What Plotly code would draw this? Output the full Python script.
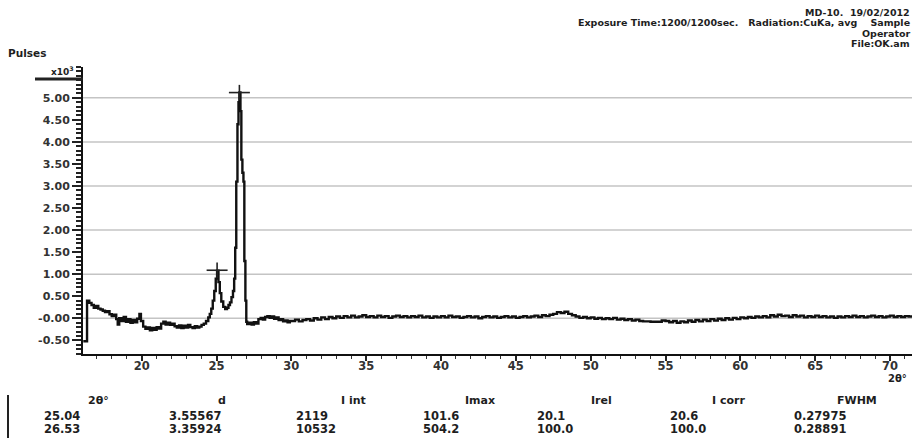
import plotly.graph_objects as go

# ---------------- data (pulses in units of 10^3) ----------------
two_theta = [
    16.10, 16.30, 16.35, 16.50, 16.65, 16.80, 16.95, 17.10, 17.25, 17.40,
    17.55, 17.70, 17.85, 18.00, 18.15, 18.30, 18.40, 18.50, 18.65, 18.80,
    18.95, 19.10, 19.25, 19.40, 19.55, 19.70, 19.85, 19.95, 20.10, 20.25,
    20.40, 20.55, 20.70, 20.85, 21.00, 21.15, 21.30, 21.45, 21.60, 21.75,
    21.90, 22.05, 22.20, 22.35, 22.50, 22.65, 22.80, 22.95, 23.10, 23.25,
    23.40, 23.55, 23.70, 23.85, 24.00, 24.15, 24.30, 24.45, 24.55, 24.65,
    24.75, 24.85, 24.95, 25.04, 25.13, 25.22, 25.32, 25.45, 25.58, 25.70,
    25.80, 25.90, 26.00, 26.10, 26.18, 26.25, 26.32, 26.40, 26.47, 26.53,
    26.60, 26.66, 26.73, 26.80, 26.86, 26.93, 26.99, 27.05, 27.20, 27.35,
    27.50, 27.65, 27.80, 27.95, 28.10, 28.25, 28.40, 28.55, 28.70, 28.85,
    29.00, 29.15, 29.30, 29.45, 29.60, 29.75, 29.90,
    30.00, 30.25, 30.50, 30.75, 31.00, 31.25, 31.50, 31.75, 32.00, 32.25,
    32.50, 32.75, 33.00, 33.25, 33.50, 33.75, 34.00, 34.25, 34.50, 34.75,
    35.00, 35.25, 35.50, 35.75, 36.00, 36.25, 36.50, 36.75, 37.00, 37.25,
    37.50, 37.75, 38.00, 38.25, 38.50, 38.75, 39.00, 39.25, 39.50, 39.75,
    40.00, 40.25, 40.50, 40.75, 41.00, 41.25, 41.50, 41.75, 42.00, 42.25,
    42.50, 42.75, 43.00, 43.25, 43.50, 43.75, 44.00, 44.25, 44.50, 44.75,
    45.00, 45.25, 45.50, 45.75, 46.00, 46.25, 46.50, 46.75, 47.00, 47.25,
    47.50, 47.75, 48.00, 48.25, 48.50, 48.75, 49.00, 49.25, 49.50, 49.75,
    50.00, 50.25, 50.50, 50.75, 51.00, 51.25, 51.50, 51.75, 52.00, 52.25,
    52.50, 52.75, 53.00, 53.25, 53.50, 53.75, 54.00, 54.25, 54.50, 54.75,
    55.00, 55.25, 55.50, 55.75, 56.00, 56.25, 56.50, 56.75, 57.00, 57.25,
    57.50, 57.75, 58.00, 58.25, 58.50, 58.75, 59.00, 59.25, 59.50, 59.75,
    60.00, 60.25, 60.50, 60.75, 61.00, 61.25, 61.50, 61.75, 62.00, 62.25,
    62.50, 62.75, 63.00, 63.25, 63.50, 63.75, 64.00, 64.25, 64.50, 64.75,
    65.00, 65.25, 65.50, 65.75, 66.00, 66.25, 66.50, 66.75, 67.00, 67.25,
    67.50, 67.75, 68.00, 68.25, 68.50, 68.75, 69.00, 69.25, 69.50, 69.75,
    70.00, 70.25, 70.50, 70.75, 71.00, 71.25, 71.50,
]
pulses_k = [
    -0.52, -0.52, 0.40, 0.35, 0.30, 0.24, 0.28, 0.22, 0.20, 0.17,
    0.14, 0.16, 0.09, 0.05, 0.08, -0.02, -0.14, 0.00, -0.06, 0.03,
    -0.08, -0.02, -0.10, -0.04, -0.09, -0.01, 0.10, -0.06, -0.19, -0.24,
    -0.21, -0.27, -0.22, -0.26, -0.20, -0.23, -0.12, -0.08, -0.14, -0.10,
    -0.15, -0.12, -0.18, -0.21, -0.16, -0.22, -0.17, -0.21, -0.15, -0.20,
    -0.22, -0.18, -0.21, -0.19, -0.15, -0.12, -0.06, 0.02, 0.10, 0.22,
    0.40, 0.62, 0.90, 1.08, 0.82, 0.57, 0.38, 0.26, 0.21, 0.24,
    0.30, 0.36, 0.48, 0.62, 0.90, 1.60, 3.10, 4.40, 4.90, 5.12,
    4.70, 3.60, 3.30, 3.10, 1.30, 0.40, -0.08, -0.13, -0.10, -0.14,
    -0.09, -0.12, -0.02, 0.01, -0.03, 0.03, 0.05, 0.01, 0.04, -0.01,
    0.02, -0.04, -0.02, -0.07, -0.05, -0.09, -0.06,
    -0.06, -0.03, -0.07, -0.04, -0.02, -0.05, 0.00, -0.03, 0.02, -0.02,
    0.03, 0.00, 0.04, 0.01, 0.05, 0.02, 0.06, 0.02, 0.04, 0.07,
    0.03, 0.05, 0.02, 0.06, 0.03, 0.05, 0.01, 0.04, 0.06, 0.03,
    0.05, 0.02, 0.05, 0.03, 0.06, 0.02, 0.04, 0.01, 0.04, 0.02,
    0.05, 0.02, 0.06, 0.03, 0.04, 0.01, 0.03, 0.05, 0.02, 0.04,
    0.00, 0.03, 0.05, 0.02, 0.04, 0.01, 0.03, 0.05, 0.02, 0.04,
    0.01, 0.03, 0.05, 0.02, 0.04, 0.06, 0.03, 0.07, 0.05, 0.08,
    0.10, 0.14, 0.12, 0.15, 0.10, 0.07, 0.04, 0.01, 0.03, 0.00,
    0.02, -0.01, 0.01, -0.02, 0.00, -0.02, 0.01, -0.03, -0.01, -0.04,
    -0.02, -0.05, -0.03, -0.06, -0.07, -0.07, -0.08, -0.08, -0.08, -0.05,
    -0.06, -0.09, -0.06, -0.10, -0.07, -0.09, -0.05, -0.08, -0.04, -0.07,
    -0.03, -0.06, -0.02, -0.05, -0.01, -0.04, 0.00, -0.03, 0.01, -0.02,
    0.02, 0.00, 0.03, 0.01, 0.04, 0.02, 0.05, 0.02, 0.07, 0.04,
    0.08, 0.05, 0.06, 0.03, 0.07, 0.04, 0.06, 0.02, 0.05, 0.03,
    0.06, 0.03, 0.05, 0.02, 0.04, 0.01, 0.04, 0.02, 0.05, 0.03,
    0.06, 0.03, 0.05, 0.02, 0.04, 0.06, 0.03, 0.05, 0.02, 0.04,
    0.06, 0.03, 0.05, 0.03, 0.05, 0.04, 0.05,
]

peak_two_theta = [25.04, 26.53]
peak_top_k = [1.09, 5.12]

y_tick_values = [-0.5, 0.0, 0.5, 1.0, 1.5, 2.0, 2.5, 3.0, 3.5, 4.0, 4.5, 5.0]
y_tick_labels = ["-0.50", "-0.00", "0.50", "1.00", "1.50", "2.00", "2.50",
                 "3.00", "3.50", "4.00", "4.50", "5.00"]
x_tick_values = [20, 25, 30, 35, 40, 45, 50, 55, 60, 65, 70]
x_tick_labels = ["20", "25", "30", "35", "40", "45", "50", "55", "60", "65", "70"]
grid_values = [0, 1, 2, 3, 4, 5]

header_lines = ["MD-10.  19/02/2012",
                "Exposure Time:1200/1200sec.   Radiation:CuKa, avg    Sample",
                "Operator",
                "File:OK.am"]
table_headers = ["2θ°", "d", "I int", "Imax", "Irel", "I corr", "FWHM"]
table_row1 = ["25.04", "3.55567", "2119", "101.6", "20.1", "20.6", "0.27975"]
table_row2 = ["26.53", "3.35924", "10532", "504.2", "100.0", "100.0", "0.28891"]

# ---------------- layout helpers (pixel -> paper) ----------------
W, H = 912, 438
L, R, T, B = 83, 0, 67, 84
PW, PH = W - L - R, H - T - B


def px(x):
    return (x - L) / PW


def py(y):
    return (H - B - y) / PH


FONT = "DejaVu Sans"
TXT = "#1e1e1e"

fig = go.Figure()

fig.add_trace(go.Scatter(
    x=two_theta, y=pulses_k, mode="lines",
    line=dict(color="#111111", width=2.4, shape="hv"),
    hoverinfo="skip", showlegend=False,
))
fig.add_trace(go.Scatter(
    x=peak_two_theta, y=peak_top_k, mode="markers",
    marker=dict(symbol="line-ew", size=15, line=dict(color="#222222", width=1.6)),
    hoverinfo="skip", showlegend=False,
))
fig.add_trace(go.Scatter(
    x=peak_two_theta, y=peak_top_k, mode="markers",
    marker=dict(symbol="line-ns", size=11, line=dict(color="#222222", width=1.6)),
    hoverinfo="skip", showlegend=False,
))

shapes = []
for g in grid_values:
    shapes.append(dict(type="line", xref="paper", yref="y", x0=0, x1=1, y0=g, y1=g,
                       line=dict(color="#c4c4c4", width=1.5), layer="below"))
# thick bar at the top of the y scale and table side bar
shapes.append(dict(type="line", xref="paper", yref="paper",
                   x0=px(35), x1=px(83), y0=py(79), y1=py(79),
                   line=dict(color="#222222", width=3)))
shapes.append(dict(type="line", xref="paper", yref="paper",
                   x0=px(8), x1=px(8), y0=py(395), y1=py(440),
                   line=dict(color="#222222", width=2)))

annotations = []


def add_text(text, x, y, xanchor="left", size=11, bold=True, color=TXT):
    annotations.append(dict(
        text=text, xref="paper", yref="paper", x=px(x), y=py(y),
        xanchor=xanchor, yanchor="middle", showarrow=False, borderpad=0,
        font=dict(family=FONT, size=size, color=color,
                  weight="bold" if bold else "normal"),
    ))


header_y = [12, 23, 33, 43]
for line, yy in zip(header_lines, header_y):
    add_text(line, 911, yy, xanchor="right", size=9.5)

add_text("Pulses", 7, 53, size=10.5)
add_text("x10<sup>3</sup>", 50, 71, size=9)
add_text("2θ°", 908, 378, xanchor="right", size=10)

header_right = [110, 227, 367, 496, 613, 746, 878]
value_left = [43, 168, 295, 422, 536, 669, 793]
for h, xr in zip(table_headers, header_right):
    add_text(h, xr, 400, xanchor="right", size=11)
for i, v in enumerate(table_row1):
    add_text(v, value_left[i], 416, size=11.5)
for i, v in enumerate(table_row2):
    add_text(v, value_left[i], 429, size=11.5)

fig.update_layout(
    width=W, height=H,
    margin=dict(l=L, r=R, t=T, b=B, pad=0),
    paper_bgcolor="white", plot_bgcolor="white",
    shapes=shapes, annotations=annotations,
    xaxis=dict(
        range=[16.08, 71.47], tickmode="array",
        tickvals=x_tick_values, ticktext=x_tick_labels,
        showgrid=False, zeroline=False,
        showline=True, linecolor="#111111", linewidth=2,
        ticks="outside", ticklen=5, tickwidth=1.5, tickcolor="#222222",
        ticklabelstandoff=-5,
        minor=dict(dtick=1, tick0=0, ticks="outside", ticklen=3,
                   tickwidth=1.2, tickcolor="#333333", showgrid=False),
        tickfont=dict(family=FONT, size=11.5, color="#333333", weight="bold"),
    ),
    yaxis=dict(
        range=[-0.81, 5.70], tickmode="array",
        tickvals=y_tick_values, ticktext=y_tick_labels,
        showgrid=False, zeroline=False,
        showline=True, linecolor="#111111", linewidth=2,
        ticks="outside", ticklen=9, tickwidth=2, tickcolor="#222222",
        minor=dict(dtick=0.1, tick0=0, ticks="outside", ticklen=5,
                   tickwidth=1.5, tickcolor="#222222", showgrid=False),
        tickfont=dict(family=FONT, size=11, color="#333333", weight="bold"),
    ),
)

fig.write_html("out.html",
               config={"displayModeBar": False},
               post_script="document.body.style.margin='0';document.body.style.padding='0';")
